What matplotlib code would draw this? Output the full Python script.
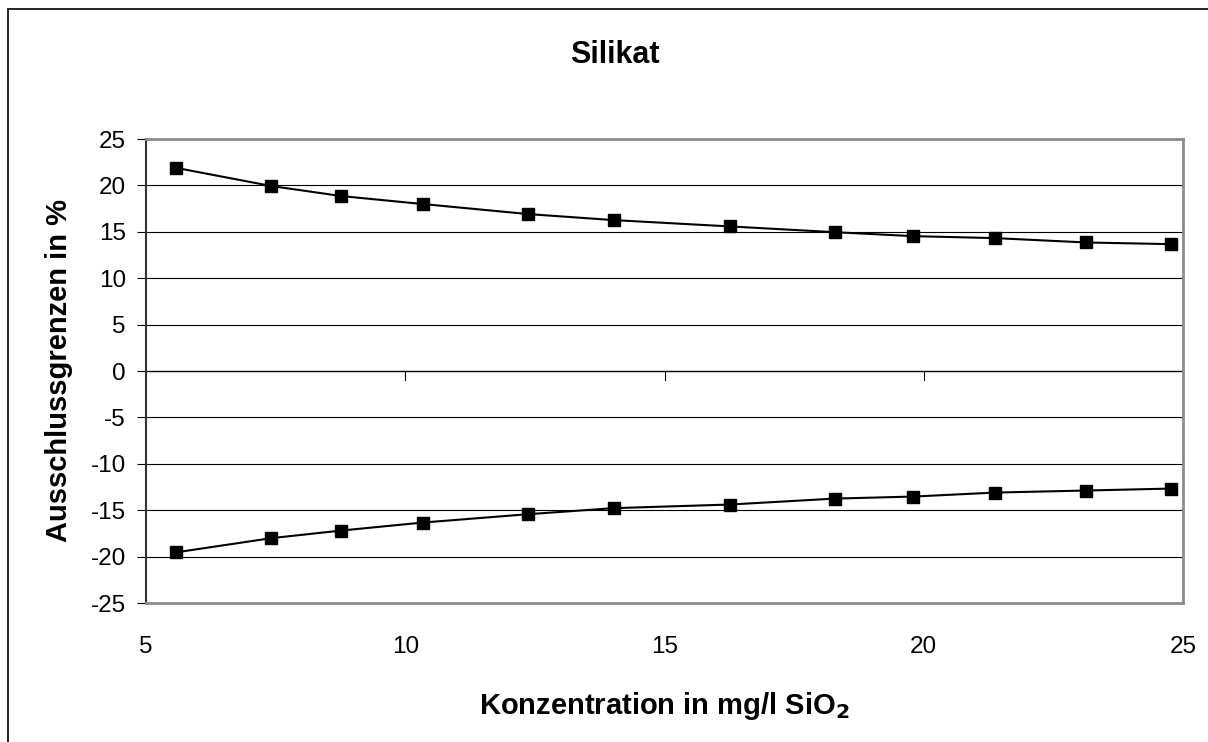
import matplotlib
matplotlib.use("Agg")
import matplotlib.pyplot as plt
from matplotlib.patches import Rectangle

plt.rcParams["font.family"] = ["Liberation Sans", "DejaVu Sans"]
plt.rcParams["axes.unicode_minus"] = False

# Konzentration in mg/l SiO2
konzentration = [5.57, 7.42, 8.77, 10.34, 12.37, 14.02, 16.26, 18.28, 19.80, 21.38, 23.13, 24.76]
# obere und untere Ausschlussgrenze in %
grenze_oben = [21.9, 19.93, 18.85, 17.99, 16.91, 16.26, 15.58, 14.96, 14.53, 14.32, 13.85, 13.67]
grenze_unten = [-19.55, -18.01, -17.19, -16.33, -15.43, -14.78, -14.39, -13.75, -13.53, -13.10, -12.88, -12.67]

x_ticks = [5, 10, 15, 20, 25]
y_ticks = [-25, -20, -15, -10, -5, 0, 5, 10, 15, 20, 25]


def plot_silikat():
    W, H = 1208, 742
    fig = plt.figure(figsize=(W / 100, H / 100), dpi=100)
    ax = fig.add_axes([146 / W, 1 - 603 / H, (1183 - 146) / W, (603 - 139) / H])

    # outer frame of the chart object (only left/top edge visible)
    fig.patches.append(Rectangle((8 / W, -0.1), 1.2, 1 - 9 / H + 0.1,
                                 transform=fig.transFigure, fill=False,
                                 edgecolor="black", linewidth=1.2))

    for y in y_ticks:
        if y in (0, -25, 25):
            continue
        ax.axhline(y, color="black", linewidth=0.8, zorder=1)

    # x axis crosses at 0, with small tick marks below it
    ax.axhline(0, color="black", linewidth=1.0, zorder=2)
    for xt in x_ticks[1:]:
        ax.plot([xt, xt], [0, -0.97], color="black", linewidth=0.8, clip_on=False, zorder=2)

    for werte in (grenze_oben, grenze_unten):
        ax.plot(konzentration, werte, color="black", linewidth=1.5, marker="s",
                markersize=8.5, markerfacecolor="black", zorder=3)

    ax.set_xlim(5, 25)
    ax.set_ylim(-25, 25)
    ax.set_xticks(x_ticks)
    ax.set_yticks(y_ticks)
    ax.tick_params(axis="x", length=0, pad=24, labelsize=17.5)
    ax.tick_params(axis="y", length=6.5, width=0.8, direction="out", labelsize=17.5, pad=8)

    for side in ("top", "right", "bottom"):
        ax.spines[side].set_color("#8c8c8c")
        ax.spines[side].set_linewidth(2)
    ax.spines["left"].set_color("#333333")
    ax.spines["left"].set_linewidth(1.5)

    fig.text(615 / W, 1 - 63 / H, "Silikat", fontsize=22, fontweight="bold",
             ha="center", va="baseline")
    fig.text(664 / W, 1 - 714 / H, "Konzentration in mg/l SiO$_\\mathbf{2}$", fontsize=21,
             fontweight="bold", ha="center", va="baseline")
    fig.text(59 / W, 1 - 371 / H, "Ausschlussgrenzen in %", fontsize=21, fontweight="bold",
             rotation=90, ha="center", va="center")

    fig.savefig("out.png", dpi=100)


if __name__ == "__main__":
    plot_silikat()
